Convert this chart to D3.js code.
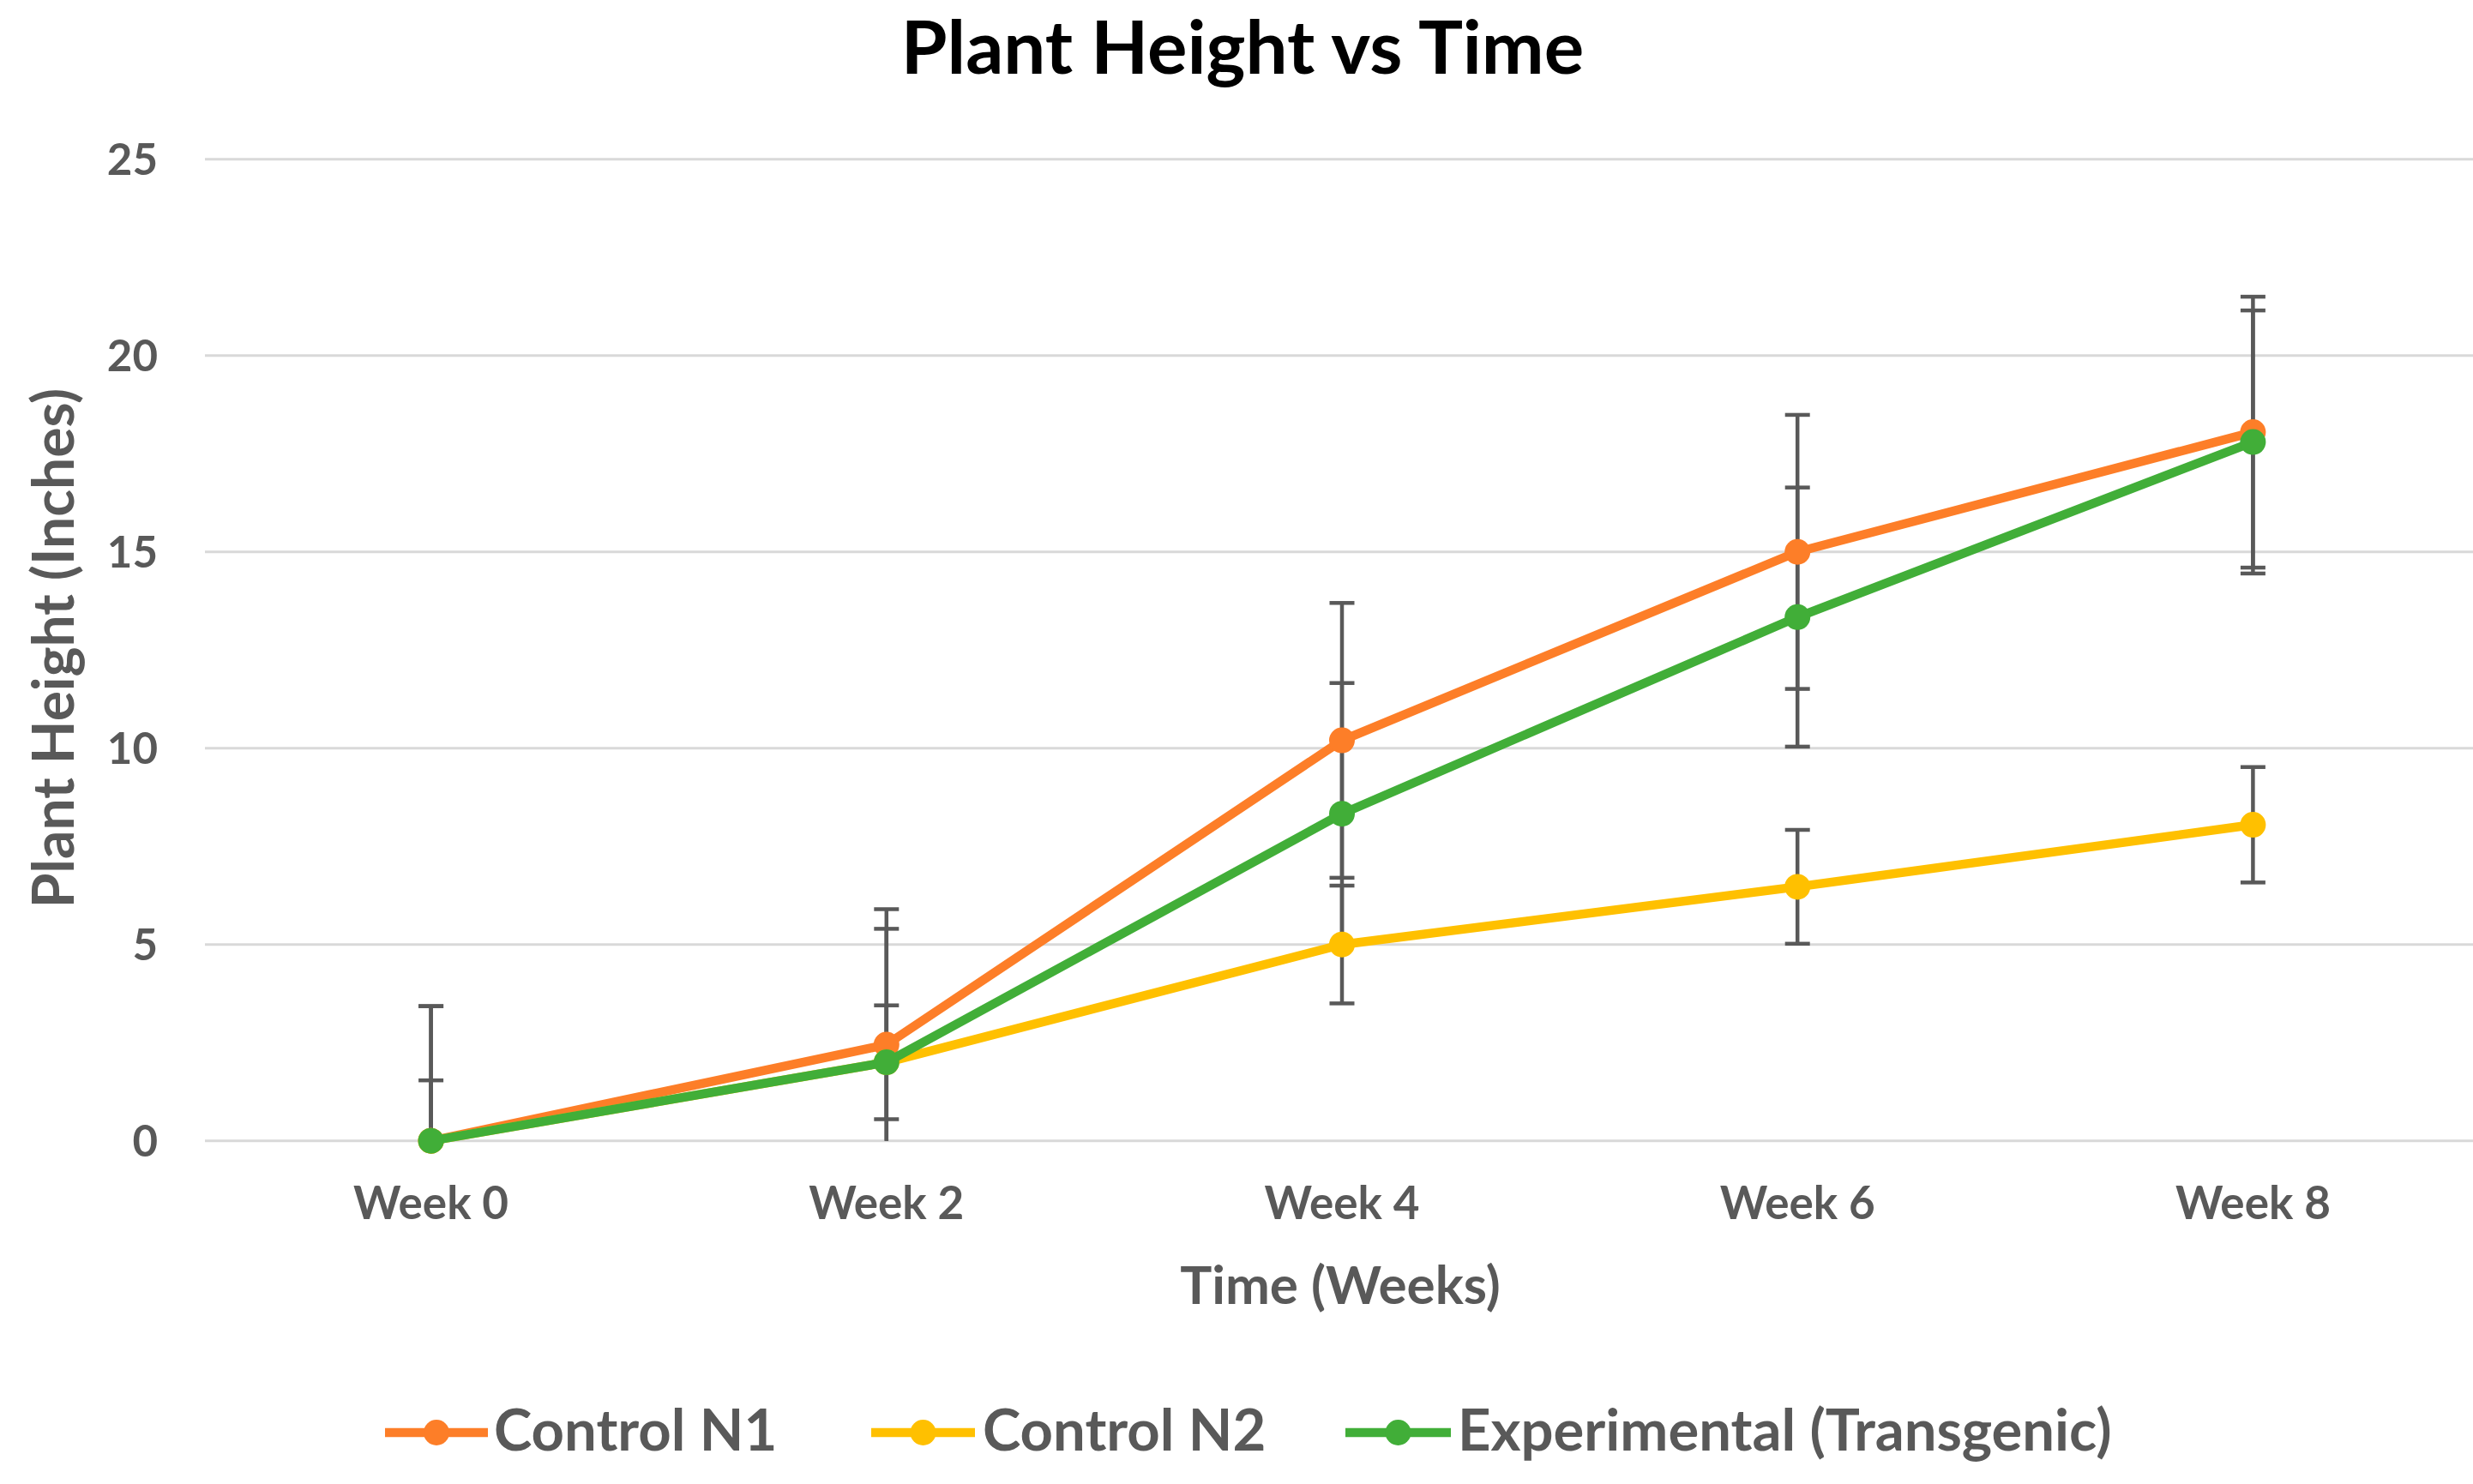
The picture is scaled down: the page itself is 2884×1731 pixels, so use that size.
<!DOCTYPE html>
<html>
<head>
<meta charset="utf-8">
<script src="https://cdn.jsdelivr.net/npm/d3@7"></script>
<style>
  html, body { margin: 0; padding: 0; background: #fff; }
  svg { display: block; }
  text { font-family: Lato, "Open Sans", sans-serif; font-weight: 700; }
</style>
</head>
<body>
<svg id="chart" width="2884" height="1731"></svg>
<script>
// ---- data ----
const weeks = ["Week 0", "Week 2", "Week 4", "Week 6", "Week 8"];
const seriesNames = ["Control N1", "Control N2", "Experimental (Transgenic)"];
const controlN1 = [0, 2.45, 10.2, 15.0, 18.05];
const controlN1Err = [3.43, 3.45, 3.5, 3.49, 3.45];
const controlN2 = [0, 2.0, 5.0, 6.47, 8.05];
const controlN2Err = [1.54, 1.45, 1.5, 1.45, 1.47];
const experimental = [0, 2.0, 8.33, 13.34, 17.8];
const experimentalErr = [3.43, 3.4, 3.33, 3.3, 3.35];
const yTicks = [0, 5, 10, 15, 20, 25];
const colors = ["#FD7E28", "#FFC000", "#41AE38"];

const series = [
  { name: seriesNames[0], values: controlN1, err: controlN1Err, color: colors[0] },
  { name: seriesNames[1], values: controlN2, err: controlN2Err, color: colors[1] },
  { name: seriesNames[2], values: experimental, err: experimentalErr, color: colors[2] }
];

const svg = d3.select("#chart");
const plot = { left: 237, right: 2893, top: 185.8, bottom: 1330.7 };

const x = d3.scalePoint().domain(weeks).range([plot.left, plot.right]).padding(0.5);
const y = d3.scaleLinear().domain([0, 25]).range([plot.bottom, plot.top]);

// clip
svg.append("defs").append("clipPath").attr("id", "clip")
  .append("rect").attr("x", plot.left).attr("y", plot.top - 10)
  .attr("width", 2884 - plot.left).attr("height", plot.bottom - plot.top + 10);

// gridlines
svg.append("g").selectAll("line").data(yTicks).join("line")
  .attr("x1", 239).attr("x2", 2884)
  .attr("y1", d => y(d)).attr("y2", d => y(d))
  .attr("stroke", "#d9d9d9").attr("stroke-width", 3);

// y axis labels
svg.append("g").selectAll("text").data(yTicks).join("text")
  .attr("x", 184).attr("y", d => y(d)).attr("dy", "0.36em")
  .attr("text-anchor", "end").attr("fill", "#595959")
  .attr("font-size", 51).text(d => d);

// x axis labels
svg.append("g").selectAll("text").data(weeks).join("text")
  .attr("x", d => x(d)).attr("y", 1422)
  .attr("text-anchor", "middle").attr("fill", "#595959")
  .attr("font-size", 53).text(d => d);

// title
svg.append("text").attr("x", 1449).attr("y", 86).attr("text-anchor", "middle")
  .attr("fill", "#000").attr("font-size", 87).text("Plant Height vs Time");

// axis titles
svg.append("text").attr("x", 1563).attr("y", 1521).attr("text-anchor", "middle")
  .attr("fill", "#595959").attr("font-size", 62).text("Time (Weeks)");
svg.append("text").attr("transform", "translate(86,756) rotate(-90)")
  .attr("text-anchor", "middle").attr("fill", "#595959")
  .attr("font-size", 66).text("Plant Height (Inches)");

// error bars
const eb = svg.append("g").attr("clip-path", "url(#clip)");
const capHalf = 14.5;
series.forEach(s => {
  const g = eb.append("g").attr("stroke", "#595959").attr("stroke-width", 4.5);
  weeks.forEach((w, i) => {
    const cx = x(w), hi = s.values[i] + s.err[i], lo = s.values[i] - s.err[i];
    g.append("line").attr("x1", cx).attr("x2", cx).attr("y1", y(hi)).attr("y2", y(lo));
    g.append("line").attr("x1", cx - capHalf).attr("x2", cx + capHalf).attr("y1", y(hi)).attr("y2", y(hi));
    g.append("line").attr("x1", cx - capHalf).attr("x2", cx + capHalf).attr("y1", y(lo)).attr("y2", y(lo));
  });
});

// lines and markers
const line = d3.line().x((d, i) => x(weeks[i])).y(d => y(d));
series.forEach(s => {
  svg.append("path").datum(s.values).attr("d", line)
    .attr("fill", "none").attr("stroke", s.color).attr("stroke-width", 10.5)
    .attr("stroke-linejoin", "round");
  svg.append("g").selectAll("circle").data(s.values).join("circle")
    .attr("cx", (d, i) => x(weeks[i])).attr("cy", d => y(d)).attr("r", 15)
    .attr("fill", s.color);
});

// legend
const legendItems = [
  { x0: 449, x1: 569, tx: 576 },
  { x0: 1016, x1: 1137, tx: 1146 },
  { x0: 1569, x1: 1692, tx: 1700 }
];
const ly = 1671;
series.forEach((s, i) => {
  const L = legendItems[i];
  const g = svg.append("g");
  g.append("line").attr("x1", L.x0).attr("x2", L.x1).attr("y1", ly).attr("y2", ly)
    .attr("stroke", s.color).attr("stroke-width", 10.5);
  g.append("circle").attr("cx", (L.x0 + L.x1) / 2).attr("cy", ly).attr("r", 15).attr("fill", s.color);
  g.append("text").attr("x", L.tx).attr("y", 1692).attr("fill", "#595959")
    .attr("font-size", 67).text(s.name);
});
</script>
</body>
</html>
